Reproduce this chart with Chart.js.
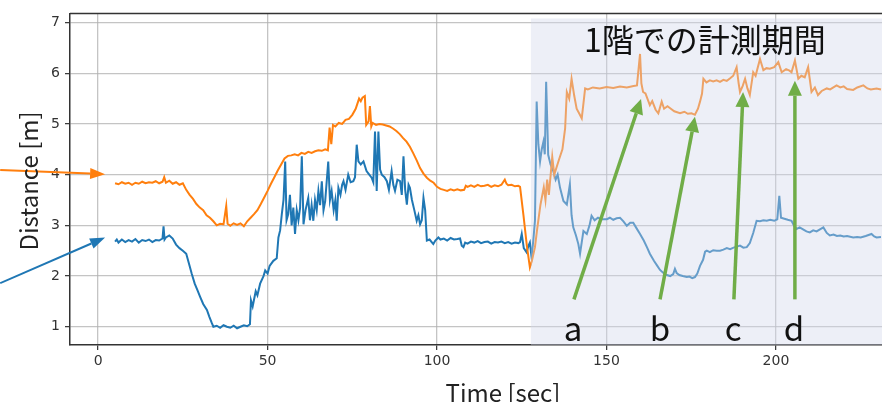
<!DOCTYPE html>
<html>
<head>
<meta charset="utf-8">
<script src="https://cdn.jsdelivr.net/npm/chart.js@4/dist/chart.umd.min.js"></script>
<style>
  html, body { margin: 0; padding: 0; background: #ffffff; }
  #wrap { width: 882px; height: 402px; position: relative; }
</style>
</head>
<body>
<div id="wrap"><canvas id="c" width="882" height="402"></canvas></div>
<script>
// ---------------- data ----------------
const timeOrange = [5,6,7,8,9,10,11,12,13,14,15,16,17,18,19,19.5,20,21,22,23,24,25,26,27,28,29,30,31,32,33,34,35,36,37,37.8,38.2,39,40,41,42,43,44,45,46,47,48,49,50,51,52,53,54,55,56,57,58,59,60,61,62,63,64,65,66,67,67.8,68.3,68.8,69.3,70,71,72,73,74,75,76,77,77.5,78,78.7,79.1,79.8,80.2,80.6,81,82,83,84,85,86,87,88,89,90,91,92,93,94,95,96,97,98,99,100,101,102,103,104,105,106,107,108,108.5,109,110,111,112,113,114,115,116,117,118,119,120,120.5,121,122,123,124,124.5,125.5,126.5,127.4,128,128.9,129.5,130.5,131.5,132,132.5,133,134,134.6,135.3,136,137,137.8,138.3,139,139.7,140.5,141.2,142,142.7,143.2,143.7,144.5,146,148,150,152,154,156,158,159,159.9,160.3,160.8,161.5,162.8,163.5,164.5,165.3,166.3,167,168,168.8,170,171.7,173,174,175.1,176.1,177,177.6,178.2,178.6,179.5,180.5,181.5,182.5,183.5,184.5,185.5,186.5,187.4,188.4,189,189.4,190.2,190.9,191.6,192.3,193.3,194,195.3,196.3,197.2,198.2,199.5,200.7,201.7,203,204,204.6,205.6,206.6,207.5,208.5,209.5,210.5,211.5,212.4,213.5,215,216,217.9,219,220,221,222.8,224,225.8,227,228,229.7,231];
const orangeDist = [3.83,3.81,3.85,3.82,3.84,3.80,3.84,3.82,3.86,3.83,3.85,3.84,3.87,3.83,3.86,3.95,3.84,3.88,3.82,3.85,3.80,3.83,3.70,3.60,3.52,3.42,3.35,3.30,3.20,3.15,3.08,3.00,3.03,3.02,3.38,3.03,2.99,3.04,3.01,3.04,2.98,3.08,3.15,3.22,3.30,3.42,3.55,3.68,3.82,3.95,4.08,4.20,4.32,4.37,4.38,4.40,4.38,4.43,4.41,4.45,4.43,4.46,4.48,4.47,4.50,4.48,4.93,4.60,4.98,4.95,5.02,5.00,5.08,5.10,5.18,5.30,5.50,5.45,5.52,5.55,4.98,5.05,5.35,4.95,5.02,4.98,5.00,4.99,4.97,4.95,4.91,4.86,4.80,4.72,4.65,4.55,4.42,4.28,4.13,4.02,3.94,3.88,3.84,3.76,3.72,3.70,3.68,3.71,3.69,3.71,3.69,3.70,3.78,3.76,3.79,3.76,3.80,3.77,3.78,3.80,3.76,3.79,3.77,3.80,3.90,3.82,3.79,3.80,3.77,3.78,3.76,3.20,2.60,2.17,2.30,2.57,2.90,3.40,3.75,3.50,3.90,3.60,4.35,4.00,4.15,4.30,4.50,4.91,5.63,5.50,5.89,5.55,5.30,5.20,5.11,5.40,5.70,5.68,5.72,5.70,5.73,5.71,5.74,5.72,5.75,5.76,6.38,5.80,5.63,5.60,5.37,5.45,5.28,5.21,5.44,5.30,5.35,5.31,5.25,5.21,5.24,5.20,5.21,5.18,5.30,5.44,5.60,5.89,5.82,5.86,5.84,5.86,5.83,5.87,5.85,5.90,5.95,6.12,5.80,5.63,5.75,5.89,5.70,5.57,6.02,5.95,6.28,6.06,6.10,6.09,6.12,6.22,6.02,6.08,6.05,6.02,6.25,5.89,5.95,5.92,6.12,5.63,5.72,5.57,5.65,5.70,5.68,5.76,5.72,5.74,5.69,5.67,5.72,5.76,5.70,5.68,5.70,5.68];

const timeBlue = [5,5.5,6,7,8,9,10,11,12,13,14,15,16,17,18,19,19.3,19.6,20,21,22,23,24,25,26,27,27.6,28.5,29.3,30.1,31,32.1,32.8,33.5,34,35,36,37,38,39,40,41,42,43,44,44.8,45.1,45.6,46.5,47,47.8,48.8,49.3,50,50.6,51.7,52.7,53.2,53.7,54.2,54.7,55.2,55.6,56.1,56.6,57.1,57.6,58.1,58.6,59.1,59.6,60.1,60.6,61.2,62,62.5,63,63.5,64,64.5,65,65.5,66,66.5,67,67.9,68.4,68.9,69.5,70,70.4,70.9,71.5,72,72.4,73,73.8,74.5,75.3,75.8,76.3,76.8,77.5,78.3,79.2,80,80.7,81.2,81.7,82.2,82.7,83.2,83.7,84.5,85.2,85.8,86.6,87.1,87.6,88.3,89.1,89.6,90.1,90.6,91.1,91.6,92,92.6,93.3,94,94.5,95,95.5,96,96.5,97,97.8,98.9,99.5,100.4,101,102,103,104,105,106,106.8,107.3,107.8,108.3,109,110,111,112,113,114,115,116,117,118,119,120,121,122,123,124,124.5,125,125.6,126.4,127,127.4,127.9,128.4,128.9,129.4,129.9,130.4,130.9,131.4,131.8,132.2,132.8,133.5,134.3,135,135.6,136.3,137.3,138.3,139.2,139.7,140.2,141,141.7,142.2,143.2,144.2,145,145.6,146.5,147.5,148.5,150.1,151,152,153,154,155,156,157,157.9,158.8,159.9,161,162,162.8,164,165,165.8,166.8,167.8,168.8,169.7,170.2,170.7,171.5,172.5,173.7,174.5,175.3,176.1,176.8,177.6,178.5,179.1,179.6,180.5,181.5,182.5,183.5,184.5,185.5,186.5,187.5,188.5,189.4,190.4,191.4,192.3,193.3,194.3,195.3,196.3,197.3,198.3,199.5,200.4,201,201.5,202.5,203.5,204.6,205.3,206.1,207,208,209,210,211,212,213,214,215,215.9,217,218,219,220,221,222.8,224,225,226.5,228.2,229,229.7,231];
const blueDist = [2.68,2.72,2.66,2.72,2.67,2.71,2.68,2.73,2.66,2.71,2.69,2.72,2.67,2.71,2.70,2.74,2.98,2.72,2.76,2.80,2.74,2.62,2.55,2.50,2.44,2.20,2.05,1.85,1.72,1.59,1.45,1.33,1.20,1.08,1.00,1.02,0.98,1.03,1.00,0.98,1.02,0.97,1.00,1.03,1.01,1.05,1.52,1.40,1.70,1.62,1.85,2.00,2.11,2.05,2.20,2.30,2.35,2.76,2.90,3.22,3.50,4.26,3.10,3.22,3.60,3.00,3.35,2.83,3.30,3.10,3.35,4.36,3.02,3.30,3.54,3.10,3.40,3.09,3.50,3.30,3.68,3.40,3.87,3.30,3.48,4.26,3.50,3.68,3.30,3.50,3.09,3.74,3.60,3.80,3.87,3.70,4.00,3.85,3.87,3.95,4.59,4.26,4.20,4.26,4.07,4.00,3.94,3.85,4.85,3.68,4.85,4.10,4.00,3.95,3.87,3.70,4.07,3.80,3.68,3.90,3.87,3.60,4.36,3.70,3.41,3.80,3.74,3.50,3.30,3.09,3.20,3.02,3.10,3.54,3.30,2.70,2.72,2.63,2.70,2.76,2.72,2.74,2.70,2.75,2.72,2.73,2.74,2.60,2.57,2.66,2.64,2.68,2.66,2.69,2.65,2.67,2.68,2.64,2.67,2.66,2.68,2.65,2.67,2.64,2.66,2.65,2.67,2.83,2.55,2.47,2.60,2.66,2.37,2.70,3.09,5.44,4.60,4.26,4.50,4.65,4.40,5.83,4.39,4.20,4.07,3.90,4.00,3.74,3.48,3.41,3.81,3.20,2.96,2.80,2.63,2.44,2.89,2.83,3.00,3.19,3.10,3.15,3.12,3.12,3.15,3.11,3.14,3.15,3.08,2.99,3.05,3.05,2.95,2.83,2.70,2.56,2.44,2.30,2.20,2.12,2.06,2.02,2.00,2.04,2.14,2.06,2.02,2.00,1.98,1.99,1.96,1.98,2.05,2.20,2.32,2.48,2.50,2.47,2.51,2.50,2.50,2.52,2.55,2.53,2.56,2.58,2.60,2.56,2.57,2.65,2.85,3.09,3.08,3.10,3.09,3.11,3.09,3.12,3.58,3.15,3.13,3.11,3.09,3.00,2.93,2.96,2.92,2.88,2.86,2.90,2.88,2.92,2.96,2.85,2.80,2.82,2.79,2.80,2.78,2.79,2.76,2.77,2.76,2.79,2.83,2.78,2.76,2.77];

const xTickValues = [0, 50, 100, 150, 200];
const yTickValues = [1, 2, 3, 4, 5, 6, 7];
const xRange = [-8.3, 231.3];
const yRange = [0.64, 7.18];

// shaded "measured on 1st floor" period
const floorPeriod = { start: 127.7, top: 7.08, label: '1階での計測期間' };

// annotation arrows in data units (tail -> tip)
const markerLabels = ['a', 'b', 'c', 'd'];
const markerTails = [[140.4, 1.54], [165.8, 1.54], [187.6, 1.54], [205.6, 1.54]];
const markerTips  = [[160.2, 5.49], [176.1, 5.14], [190.3, 5.63], [205.6, 5.85]];
const markerLabelPos = [[140.1, 0.71], [165.8, 0.71], [187.4, 0.71], [205.3, 0.71]];
const seriesArrowTails = [[-28.9, 4.09], [-28.9, 1.86]];
const seriesArrowTips  = [[2.06, 4.01], [2.06, 2.76]];

// ---------------- chart ----------------
const ORANGE = '#ff7f0e', BLUE = '#1f77b4', GREEN = '#70ad47';

function toPoints(xs, ys) { return xs.map((x, i) => ({ x: x, y: ys[i] })); }

function drawArrow(ctx, x1, y1, x2, y2, color, lw, headLen, headW) {
  const ang = Math.atan2(y2 - y1, x2 - x1);
  const bx = x2 - headLen * Math.cos(ang), by = y2 - headLen * Math.sin(ang);
  ctx.save();
  ctx.strokeStyle = color; ctx.fillStyle = color; ctx.lineWidth = lw; ctx.lineCap = 'butt';
  ctx.beginPath(); ctx.moveTo(x1, y1); ctx.lineTo(bx, by); ctx.stroke();
  const px = -Math.sin(ang) * headW / 2, py = Math.cos(ang) * headW / 2;
  ctx.beginPath();
  ctx.moveTo(x2, y2); ctx.lineTo(bx + px, by + py); ctx.lineTo(bx - px, by - py); ctx.closePath(); ctx.fill();
  ctx.restore();
}

const overlayPlugin = {
  id: 'overlay',
  afterDatasetsDraw(chart) {
    const { ctx, chartArea, scales } = chart;
    const xs = scales.x, ys = scales.y;
    const sx = xs.getPixelForValue(floorPeriod.start);
    const sy = ys.getPixelForValue(floorPeriod.top);
    ctx.save();
    ctx.fillStyle = 'rgba(211,216,235,0.40)';
    ctx.fillRect(sx, sy, chartArea.right - sx, chartArea.bottom - sy);
    ctx.restore();
  },
  afterDraw(chart) {
    const { ctx, chartArea, scales } = chart;
    const xs = scales.x, ys = scales.y;
    const P = (p) => [xs.getPixelForValue(p[0]), ys.getPixelForValue(p[1])];
    ctx.save();
    ctx.strokeStyle = '#333'; ctx.lineWidth = 1.5;
    ctx.beginPath(); ctx.moveTo(chartArea.left, chartArea.top); ctx.lineTo(chartArea.right, chartArea.top); ctx.stroke();
    ctx.restore();
    for (let i = 0; i < markerTails.length; i++) {
      const t = P(markerTails[i]), h = P(markerTips[i]);
      drawArrow(ctx, t[0], t[1], h[0], h[1], GREEN, 3.5, 15, 14);
    }
    ctx.save();
    ctx.fillStyle = '#111';
    ctx.font = '33px "Noto Sans CJK JP", "Noto Sans", sans-serif';
    ctx.textAlign = 'center'; ctx.textBaseline = 'alphabetic';
    for (let i = 0; i < markerLabels.length; i++) {
      const p = P(markerLabelPos[i]);
      ctx.fillText(markerLabels[i], p[0], p[1]);
    }
    ctx.font = '32px "Noto Sans CJK JP", sans-serif';
    ctx.textAlign = 'left'; ctx.textBaseline = 'middle';
    ctx.fillText(floorPeriod.label, 584, 40);
    ctx.restore();
    const colors = [ORANGE, BLUE];
    for (let i = 0; i < 2; i++) {
      const t = P(seriesArrowTails[i]), h = P(seriesArrowTips[i]);
      drawArrow(ctx, t[0], t[1], h[0], h[1], colors[i], 2, 15, 11);
    }
    ctx.save();
    ctx.fillStyle = '#222';
    ctx.font = '24px "Noto Sans CJK JP", "Noto Sans", sans-serif';
    ctx.textAlign = 'center'; ctx.textBaseline = 'middle';
    ctx.fillText('Time [sec]', 503, 393);
    ctx.translate(29, 181);
    ctx.rotate(-Math.PI / 2);
    ctx.fillText('Distance [m]', 0, 0);
    ctx.restore();
  }
};

new Chart(document.getElementById('c'), {
  type: 'line',
  data: {
    datasets: [
      { label: 'orange', data: toPoints(timeOrange, orangeDist), borderColor: ORANGE, borderWidth: 2, pointRadius: 0, tension: 0, order: 1 },
      { label: 'blue', data: toPoints(timeBlue, blueDist), borderColor: BLUE, borderWidth: 2, pointRadius: 0, tension: 0, order: 2 }
    ]
  },
  options: {
    responsive: false,
    animation: false,
    events: [],
    layout: { padding: { top: 11, right: 0, left: 0, bottom: 0 } },
    plugins: { legend: { display: false }, tooltip: { enabled: false } },
    scales: {
      x: {
        type: 'linear', min: xRange[0], max: xRange[1],
        afterBuildTicks: (s) => { s.ticks = xTickValues.map(v => ({ value: v })); },
        afterFit: (s) => { s.height = 57; },
        grid: { color: 'rgba(176,176,176,0.75)', lineWidth: 1.3, tickLength: 5, tickColor: '#333', tickWidth: 1.2 },
        border: { color: '#333', width: 1.5 },
        ticks: { color: '#333', font: { family: 'DejaVu Sans', size: 14 }, padding: 3, maxRotation: 0 }
      },
      y: {
        type: 'linear', min: yRange[0], max: yRange[1],
        afterBuildTicks: (s) => { s.ticks = yTickValues.map(v => ({ value: v })); },
        afterFit: (s) => { s.width = 70; },
        grid: { color: 'rgba(176,176,176,0.75)', lineWidth: 1.3, tickLength: 5, tickColor: '#333', tickWidth: 1.2 },
        border: { color: '#333', width: 1.5 },
        ticks: { color: '#333', font: { family: 'DejaVu Sans', size: 14 }, padding: 5 }
      }
    }
  },
  plugins: [overlayPlugin]
});
</script>
</body>
</html>
